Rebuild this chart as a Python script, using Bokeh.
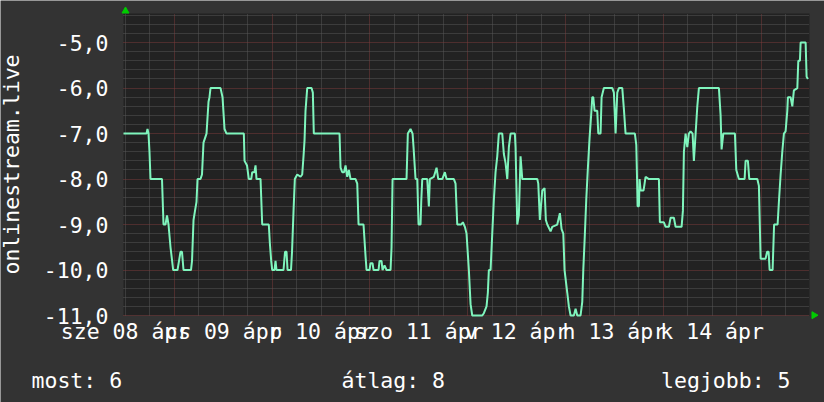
from bokeh.plotting import figure
from bokeh.models import Range1d, FixedTicker, Label
from bokeh.embed import file_html
from bokeh.resources import INLINE
import math

# ---- data (hours since 2020-04-08 00:00, rank shown as negative value) ----
hours = [11.50, 17.15, 17.39, 17.64, 17.88, 18.13, 20.95, 21.32, 21.81, 22.18, 22.55, 23.04,
         23.70, 24.76, 25.13, 25.49, 25.86, 26.23, 28.07, 28.32, 28.69, 29.05, 29.42, 29.67,
         30.40, 30.77, 31.14, 31.88, 32.37, 32.61, 32.86, 35.32, 35.81, 36.30, 36.79, 41.04,
         41.21, 41.82, 42.26, 42.85, 43.10, 43.66, 43.91, 44.15, 45.14, 45.55, 47.17, 47.42,
         47.76, 48.01, 48.57, 48.82, 49.06, 50.78, 51.15, 51.52, 51.77, 52.62, 52.87, 53.24,
         53.56, 54.15, 54.96, 55.37, 55.69, 55.94, 56.18, 56.60, 57.66, 57.98, 58.22, 64.53,
         64.78, 65.20, 65.64, 66.01, 66.42, 66.82, 67.23, 68.46, 68.88, 69.20, 70.42, 70.92,
         71.16, 71.90, 72.14, 72.63, 72.88, 74.11, 74.35, 74.84, 75.09, 75.58, 76.07, 77.05,
         77.30, 77.55, 80.98, 81.30, 81.96, 82.46, 82.70, 83.19, 83.61, 83.93, 84.42, 84.59,
         84.84, 86.06, 86.46, 86.70, 87.69, 88.35, 88.77, 89.75, 90.39, 90.80, 92.60, 93.01,
         93.43, 94.41, 94.81, 95.30, 95.71, 96.28, 96.70, 97.11, 99.57, 99.96, 100.62, 100.94,
         101.19, 101.61, 102.02, 102.42, 102.83, 103.25, 103.64, 104.48, 104.87, 105.29, 105.71,
         106.10, 106.52, 107.57, 107.74, 108.16, 108.55, 108.97, 109.39, 113.07, 113.32, 113.71,
         114.30, 114.86, 115.18, 115.53, 116.34, 116.75, 117.98, 118.62, 119.04, 119.46, 119.77,
         120.44, 120.83, 121.25, 122.06, 122.48, 122.89, 123.70, 124.12, 124.37, 124.69, 125.10,
         125.50, 125.91, 126.33, 126.58, 126.82, 127.14, 127.80, 128.05, 128.61, 128.86, 129.42,
         131.49, 131.88, 132.30, 132.71, 133.11, 133.94, 134.33, 134.75, 137.03, 137.38, 137.57,
         137.70, 138.02, 138.19, 138.43, 139.17, 139.66, 140.47, 142.93, 143.17, 144.15, 144.57,
         145.38, 145.80, 146.61, 147.03, 148.50, 148.82, 149.07, 149.48, 149.90, 150.29, 150.71,
         151.20, 151.52, 151.94, 152.36, 152.75, 157.66, 158.08, 158.32, 158.74, 161.59, 161.93,
         162.57, 163.97, 164.21, 164.78, 165.12, 167.09, 167.48, 167.90, 169.12, 169.49, 169.86,
         170.11, 170.84, 171.21, 172.07, 172.39, 172.81, 173.22, 173.62, 174.03, 174.45, 174.60,
         175.26, 175.68, 176.07, 176.91, 177.15, 177.55, 177.72, 178.95, 179.19, 179.51]
values = [-7.0, -7.0, -6.9, -7.0, -7.4, -8.0, -8.0, -9.0, -9.0, -8.8, -9.0, -9.5,
          -10.0, -10.0, -9.8, -9.6, -9.6, -10.0, -10.0, -9.8, -8.9, -8.7, -8.5, -8.0,
          -8.0, -7.9, -7.2, -7.0, -6.3, -6.2, -6.0, -6.0, -6.2, -6.9, -7.0, -7.0,
          -7.6, -7.7, -8.0, -8.0, -7.85, -7.85, -7.7, -8.0, -8.0, -9.0, -9.0, -9.4,
          -9.8, -10.0, -10.0, -9.8, -10.0, -10.0, -9.6, -9.6, -10.0, -10.0, -9.6, -8.7,
          -8.0, -7.9, -7.95, -7.9, -7.5, -7.15, -6.5, -6.0, -6.0, -6.1, -7.0, -7.0,
          -7.75, -7.85, -7.85, -7.7, -7.95, -7.8, -8.0, -8.0, -8.1, -9.0, -9.0, -9.7,
          -10.0, -10.0, -9.85, -9.85, -10.0, -10.0, -9.8, -9.8, -10.0, -9.9, -10.0, -10.0,
          -9.5, -8.0, -8.0, -7.0, -6.9, -7.0, -7.3, -8.0, -8.0, -9.0, -9.0, -8.5,
          -8.0, -8.0, -8.6, -8.0, -7.95, -7.75, -8.0, -8.0, -7.85, -8.0, -8.0, -8.1,
          -9.0, -9.0, -8.95, -9.05, -9.2, -10.0, -10.75, -11.0, -11.0, -10.95, -10.8, -10.5,
          -10.0, -10.0, -9.2, -8.45, -7.85, -7.5, -7.0, -7.0, -7.45, -7.65, -8.0,
          -7.3, -7.0, -7.0, -7.3, -9.0, -8.8, -7.5, -8.0, -8.0, -8.1, -8.9,
          -8.25, -8.2, -8.9, -9.0, -9.15, -9.05, -9.0, -8.75, -9.1, -9.2, -10.0,
          -10.5, -10.8, -11.0, -11.0, -10.85, -11.0, -11.0, -10.7, -10.0, -9.35, -8.45,
          -7.75, -7.1, -6.55, -6.2, -6.2, -6.5, -6.5, -7.0, -7.0, -6.2, -6.0,
          -6.0, -6.1, -7.0, -6.1, -6.0, -6.0, -6.45, -7.0, -7.0, -7.25, -8.0,
          -8.6, -8.6, -8.0, -8.25, -8.25, -7.95, -8.0, -8.0, -8.95, -8.95, -9.05,
          -9.05, -8.85, -8.85, -9.05, -9.05, -8.7, -7.4, -7.0, -7.3, -7.0, -6.95,
          -7.0, -7.6, -7.0, -6.4, -6.0, -6.0, -6.6, -7.35, -7.0, -7.0, -7.8,
          -8.0, -8.0, -7.6, -7.6, -8.0, -8.0, -8.15, -9.75, -9.75, -9.6, -9.6,
          -10.0, -10.0, -9.0, -9.0, -8.5, -7.9, -7.4, -7.0, -6.95, -6.5, -6.2,
          -6.2, -6.4, -6.05, -6.0, -5.4, -5.4, -5.0, -5.0, -5.75, -5.8]

# x axis: label at noon of each day, grid at midnight (major) and every 6 hours (minor)
day_label_hours = [12, 36, 60, 84, 108, 132, 156]
day_labels = ["sze 08 ápr", "cs 09 ápr", "p 10 ápr", "szo 11 ápr", "v 12 ápr", "h 13 ápr", "k 14 ápr"]
midnight_hours = [24, 48, 72, 96, 120, 144, 168]
six_hour_marks = [h for h in range(12, 180, 6) if h not in midnight_hours]

# y axis
y_ticks = [-11, -10, -9, -8, -7, -6, -5]
y_minor = [round(-11 + 0.2 * k, 1) for k in range(0, 34) if k % 5 != 0]
y_tick_labels = {v: f"{v:.1f}".replace(".", ",") for v in y_ticks}

legend_names = ["most", "átlag", "legjobb"]
legend_values = [6, 8, 5]

# ---- layout (pixels) ----
W, H = 824, 402
AREA_L, AREA_T, AREA_W, AREA_H = 123, 13, 686, 302   # data area inside the canvas

x_start, x_end = 11.5, 179.9
y_start, y_end = -11.0, -4.36
dx = (x_end - x_start) / AREA_W
dy = (y_end - y_start) / AREA_H
AREA_B = AREA_T + AREA_H

FONT = "DejaVu Sans Mono"
FS = "21.5px"
WHITE = "#ffffff"
OUTER = "#333333"
CANVAS = "#222222"

p = figure(width=W, height=H, output_backend="svg", toolbar_location=None,
           x_range=Range1d(x_start - AREA_L * dx, x_start + (W - AREA_L) * dx),
           y_range=Range1d(y_start - (H - AREA_B) * dy, y_end + AREA_T * dy),
           min_border_left=0, min_border_right=0, min_border_top=0, min_border_bottom=0,
           background_fill_color=OUTER, border_fill_color=OUTER,
           outline_line_color=None)

# plot canvas (data area)
p.quad(left=[x_start], right=[x_end], bottom=[y_start], top=[y_end],
       fill_color=CANVAS, line_color=None, level="image")

# grids
p.xgrid.ticker = FixedTicker(ticks=midnight_hours, minor_ticks=six_hour_marks)
p.ygrid.ticker = FixedTicker(ticks=y_ticks, minor_ticks=y_minor)
for g, cb in ((p.xgrid[0], (y_start, y_end)), (p.ygrid[0], (x_start, x_end))):
    g.grid_line_color = "#7a3a3a"
    g.grid_line_dash = "1 1"
    g.grid_line_width = 1
    g.minor_grid_line_color = "#575757"
    g.minor_grid_line_dash = "1 1"
    g.minor_grid_line_width = 1
    try:
        g.cross_bounds = cb
    except Exception:
        pass

p.line(hours, values, line_color="#7ff5bd", line_width=2)

# axes, drawn at the edges of the data area
xa = p.xaxis[0]
xa.ticker = FixedTicker(ticks=day_label_hours)
xa.major_label_overrides = dict(zip(day_label_hours, day_labels))
xa.fixed_location = y_start
xa.bounds = (x_start, x_end)
ya = p.yaxis[0]
ya.ticker = FixedTicker(ticks=y_ticks)
ya.major_label_overrides = y_tick_labels
ya.fixed_location = x_start
ya.bounds = (y_start, y_end)
ya.axis_label = "onlinestream.live"
for ax in (xa, ya):
    ax.axis_line_color = None
    ax.major_tick_line_color = None
    ax.minor_tick_line_color = None
    ax.major_tick_out = 0
    ax.major_tick_in = 0
    ax.major_label_text_font = FONT
    ax.major_label_text_font_size = FS
    ax.major_label_text_color = WHITE
    ax.axis_label_text_font = FONT
    ax.axis_label_text_font_size = FS
    ax.axis_label_text_font_style = "normal"
    ax.axis_label_text_color = WHITE
xa.major_label_standoff = 3
ya.major_label_standoff = 15
ya.axis_label_standoff = 17

# axis arrows
p.scatter([x_start + 2 * dx], [y_end + 2.5 * dy], marker="triangle", size=7,
          fill_color="#00cc00", line_color="#00cc00")
p.scatter([x_end + 4.5 * dx], [y_start + 0.3 * dy], marker="triangle", size=7, angle=-math.pi / 2,
          fill_color="#00cc00", line_color="#00cc00")

# legend line (GPRINT style)
legend_texts = [f"{n}: {v}" for n, v in zip(legend_names, legend_values)]
legend_x = [31, 341, 790]
legend_align = ["left", "left", "right"]
for t, lx, al in zip(legend_texts, legend_x, legend_align):
    p.add_layout(Label(x=lx, y=H - 380, x_units="screen", y_units="screen", text=t,
                       text_font=FONT, text_font_size=FS, text_color=WHITE,
                       text_align=al, text_baseline="alphabetic"))

open("out.html", "w").write(file_html(p, INLINE))
